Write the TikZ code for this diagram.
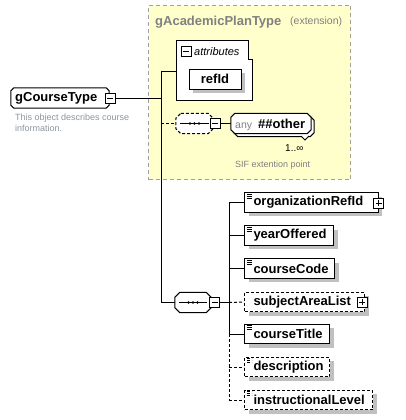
\documentclass[tikz,border=0pt]{standalone}
\usepackage{fontspec}
\setmainfont{Liberation Sans}
\usetikzlibrary{shadows}
\definecolor{ybg}{HTML}{FFFFCC}
\definecolor{yborder}{HTML}{A0A0A0}
\definecolor{titlegray}{HTML}{808080}
\definecolor{shgray}{HTML}{C0C0C0}
\definecolor{descgray}{HTML}{8C96A0}
\tikzset{
  bfont/.style={font=\bfseries\fontsize{13}{13}\selectfont},
  shad/.style={drop shadow={shadow xshift=4pt, shadow yshift=-4pt, fill=shgray, opacity=1}},
  elem/.style={draw, fill=white, line width=1pt, rectangle, inner xsep=0pt, inner ysep=0pt,
    minimum height=19.5pt, text width=#1, align=left, anchor=west, bfont, shad},
  opt/.style={dash pattern=on 3pt off 2pt},
  icon/.style={path picture={
    \draw[line width=0.8pt] ([xshift=2pt,yshift=-1.5pt]path picture bounding box.north west) -- ++(5pt,0pt)
      ([xshift=2pt,yshift=-3.5pt]path picture bounding box.north west) -- ++(5pt,0pt)
      ([xshift=2pt,yshift=-5.5pt]path picture bounding box.north west) -- ++(5pt,0pt);}},
  pmbox/.style={draw, fill=white, line width=1pt, rectangle, minimum size=10pt, inner sep=0pt},
  minusbox/.style={pmbox, path picture={
    \draw[line width=1pt] ([xshift=2pt]path picture bounding box.west) -- ([xshift=-2pt]path picture bounding box.east);}},
  plusbox/.style={pmbox, path picture={
    \draw[line width=1pt] ([xshift=2pt]path picture bounding box.west) -- ([xshift=-2pt]path picture bounding box.east)
      ([yshift=2pt]path picture bounding box.south) -- ([yshift=-2pt]path picture bounding box.north);}},
  anchorbox/.style={rectangle, inner sep=0pt, draw=none, fill=none},
  conn/.style={line width=1pt},
}
% chamfered outline around a named node: [options]{node}{chamfer}
\newcommand\chamfbox[3][]{%
  \draw[line width=1pt, fill=white, #1] ([xshift=#3]#2.north west) -- ([xshift=-#3]#2.north east)
    -- ([yshift=-#3]#2.north east) -- ([yshift=#3]#2.south east) -- ([xshift=-#3]#2.south east)
    -- ([xshift=#3]#2.south west) -- ([yshift=#3]#2.south west) -- ([yshift=-#3]#2.north west) -- cycle;}
\newcommand\chamfshadow[2]{%
  \fill[shgray, shift={(3pt,-3pt)}] ([xshift=#2]#1.north west) -- ([xshift=-#2]#1.north east)
    -- ([yshift=-#2]#1.north east) -- ([yshift=#2]#1.south east) -- ([xshift=-#2]#1.south east)
    -- ([xshift=#2]#1.south west) -- ([yshift=#2]#1.south west) -- ([yshift=-#2]#1.north west) -- cycle;}
\newcommand\seqdots[1]{%
  \draw[line width=1pt] ([xshift=4pt]#1.west) -- ([xshift=-4pt]#1.east);
  \fill ([xshift=-4.5pt]#1.center) circle (1.4pt) (#1.center) circle (1.4pt) ([xshift=4.5pt]#1.center) circle (1.4pt);}
\begin{document}
\begin{tikzpicture}[x=1pt,y=-1pt]
\useasboundingbox[fill=white] (0,0) rectangle (406,420);

% extension box
\node[draw=yborder, fill=ybg, line width=1pt, dash pattern=on 4pt off 3pt, rectangle, inner sep=0pt,
  minimum width=202pt, minimum height=174pt, anchor=north west] (ext) at (148,5) {};
\node[anchor=base west, inner sep=0pt, text=titlegray, bfont] (extt) at (155,26) {gAcademicPlanType};
\node[anchor=base west, inner sep=0pt, text=titlegray, font=\fontsize{10.5}{10.5}\selectfont] (exts) at (290,25) {(extension)};

% attributes tab
\draw[line width=1pt, fill=white] (176,41) -- (248,41) -- (248,60) -- (252,60) -- (252,100) -- (176,100) -- cycle;
\node[minusbox] (attm) at (186,52) {};
\node[anchor=base west, inner sep=0pt, font=\itshape\fontsize{11}{11}\selectfont] (attt) at (194,56) {attributes};
\node[draw, fill=white, line width=1pt, rectangle, inner sep=0pt, minimum width=52pt, minimum height=20pt,
  bfont, shad] (refid) at (215,79) {refId};
\coordinate (attin) at (176,71);

% gCourseType
\node[anchorbox, minimum width=98pt, minimum height=20pt] (gct) at (60,98) {};
\chamfbox{gct}{3pt}
\node[anchor=west, inner sep=0pt, bfont] (gctt) at (15,98.5) {gCourseType};
\node[minusbox] (gctm) at (110,98) {};
\node[anchor=north west, inner sep=0pt, text=descgray, align=left,
  font=\fontsize{9}{11}\selectfont] (desc) at (15,114) {This object describes course\\information.};

% bus 1
\coordinate (b1top) at (161,71);
\coordinate (b1mid) at (161,98);
\coordinate (b1seq) at (161,123.5);
\coordinate (b1bot) at (161,302.5);
\draw[conn] (gctm.east) -- (b1mid);
\draw[conn] (b1top) -- (b1bot);
\draw[conn] (b1top) -- (attin);

% upper sequence + any
\node[anchorbox, minimum width=37pt, minimum height=20pt] (seq1) at (194.5,123.5) {};
\chamfbox[opt]{seq1}{5pt}
\seqdots{seq1}
\node[minusbox] (seq1m) at (215,123.5) {};
\draw[conn, opt] (b1seq) -- (seq1.west);
\node[anchorbox, minimum width=80pt, minimum height=20pt] (anyb) at (274,126.5) {};
\node[anchorbox, minimum width=80pt, minimum height=20pt] (anyf) at (271,123.5) {};
\chamfshadow{anyb}{4pt}
\chamfbox{anyb}{4pt}
\draw[line width=1pt, fill=white] (301,136) -- (305,140) -- (309,136);
\chamfbox{anyf}{4pt}
\draw[conn] (seq1m.east) -- (anyf.west);
\node[anchor=base west, inner sep=0pt, text=titlegray, font=\fontsize{10.5}{10.5}\selectfont] (anyt) at (235,128) {any};
\node[anchor=base west, inner sep=0pt, bfont] (othert) at (258,128) {\#\#other};
\node[anchor=base west, inner sep=0pt, font=\fontsize{10}{10}\selectfont] (card) at (285,151) {1..∞};
\node[anchor=base west, inner sep=0pt, text=titlegray, font=\fontsize{9}{9}\selectfont] (sif) at (235,167) {SIF extention point};

% lower sequence
\node[anchorbox, minimum width=36pt, minimum height=20pt] (seq2) at (193,302.5) {};
\chamfshadow{seq2}{5pt}
\chamfbox{seq2}{5pt}
\seqdots{seq2}
\node[minusbox] (seq2m) at (214.5,302.5) {};
\draw[conn] (b1bot) -- (seq2.west);

% bus 2
\coordinate (b2a) at (229,202.5);
\coordinate (b2b) at (229,235.5);
\coordinate (b2c) at (229,268.5);
\coordinate (b2d) at (229,302.5);
\coordinate (b2e) at (229,334);
\coordinate (b2f) at (229,367);
\coordinate (b2g) at (229,400);
\draw[conn] (seq2m.east) -- (b2d);
\draw[conn] (b2a) -- (b2e);
\draw[conn, opt] (b2e) -- (b2g);

% elements
\node[elem=133.5pt, icon] (e1) at (244,202.5) {\hspace*{9pt}organizationRefId};
\node[plusbox] (e1p) at (378.5,203) {};
\node[elem=89pt, icon] (e2) at (244,235.5) {\hspace*{9pt}yearOffered};
\node[elem=90pt, icon] (e3) at (244,268.5) {\hspace*{9pt}courseCode};
\node[elem=120pt, opt] (e4) at (244,302) {\hspace*{9pt}subjectAreaList};
\node[plusbox] (e4p) at (362,302) {};
\node[elem=85pt, icon] (e5) at (244,334) {\hspace*{9pt}courseTitle};
\node[elem=85pt, icon, opt] (e6) at (244,367) {\hspace*{9pt}description};
\node[elem=128pt, icon, opt] (e7) at (244,400) {\hspace*{9pt}instructionalLevel};

\draw[conn] (b2a) -- (e1.west);
\draw[conn] (b2b) -- (e2.west);
\draw[conn] (b2c) -- (e3.west);
\draw[conn, opt] (b2d) -- (e4.west);
\draw[conn] (b2e) -- (e5.west);
\draw[conn, opt] (b2f) -- (e6.west);
\draw[conn, opt] (b2g) -- (e7.west);
\end{tikzpicture}
\end{document}
